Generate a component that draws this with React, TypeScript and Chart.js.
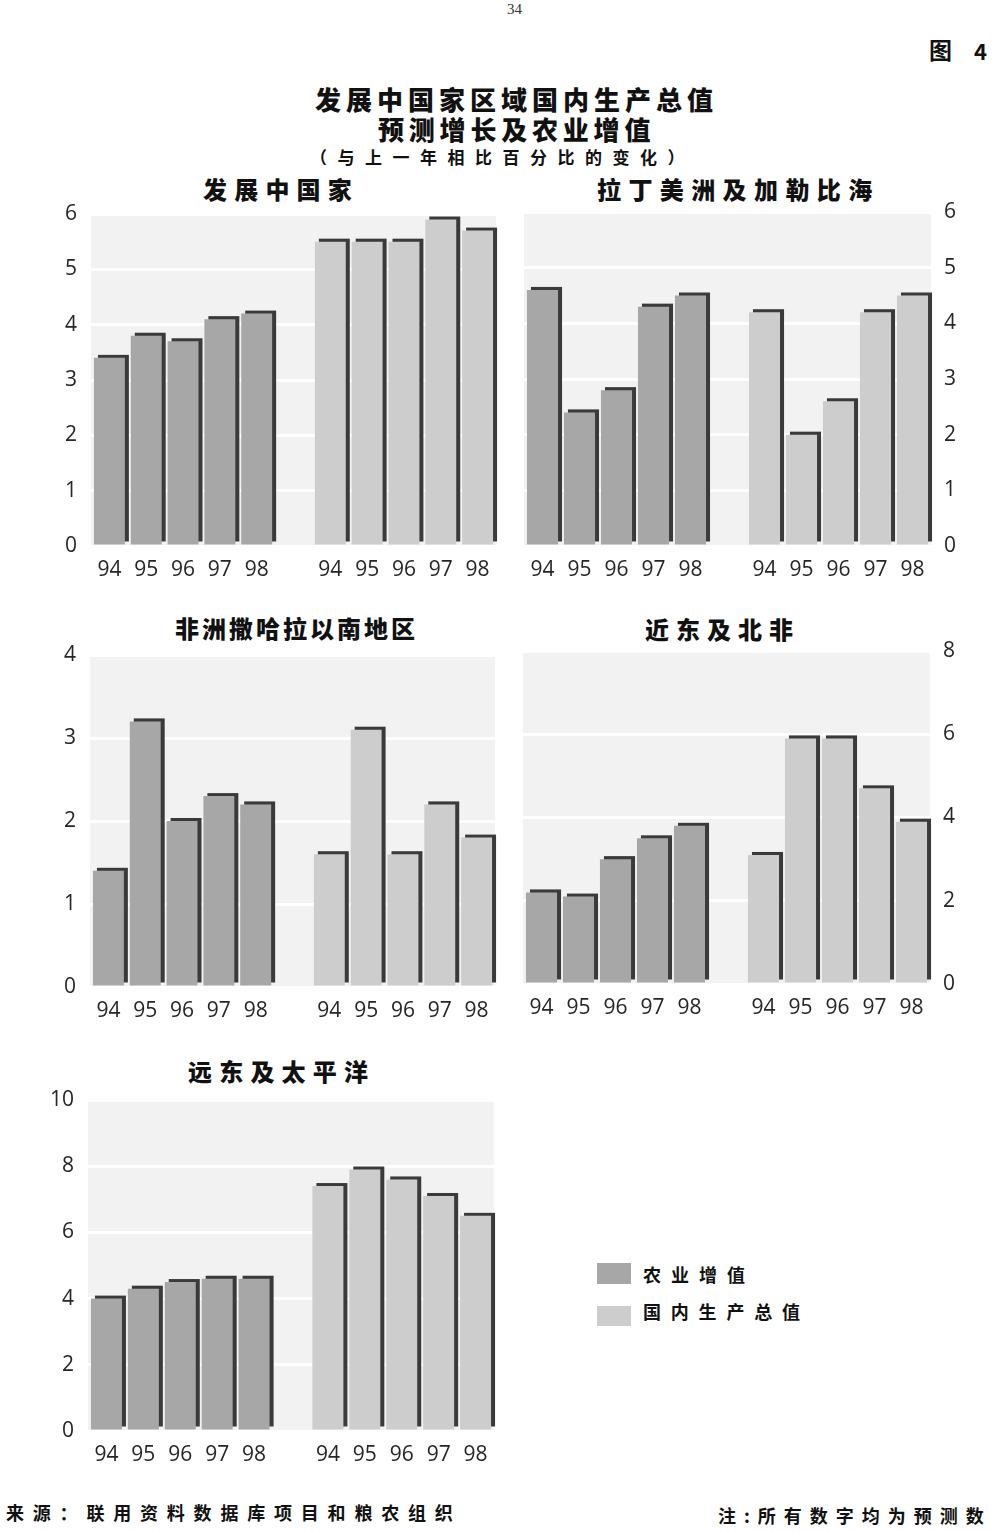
import React, { useEffect, useRef } from 'react';
import { Chart, registerables } from 'chart.js';

Chart.register(...registerables);

// ---------- data ----------
const YEARS = ['94', '95', '96', '97', '98'];
const SERIES_NAMES = ['农业增值', '国内生产总值'];

const DEV_AGRI = [3.4, 3.8, 3.7, 4.1, 4.2];
const DEV_GDP = [5.5, 5.5, 5.5, 5.9, 5.7];
const DEV_TICKS = [0, 1, 2, 3, 4, 5, 6];

const LAC_AGRI = [4.6, 2.4, 2.8, 4.3, 4.5];
const LAC_GDP = [4.2, 2.0, 2.6, 4.2, 4.5];
const LAC_TICKS = [0, 1, 2, 3, 4, 5, 6];

const SSA_AGRI = [1.4, 3.2, 2.0, 2.3, 2.2];
const SSA_GDP = [1.6, 3.1, 1.6, 2.2, 1.8];
const SSA_TICKS = [0, 1, 2, 3, 4];

const NENA_AGRI = [2.2, 2.1, 3.0, 3.5, 3.8];
const NENA_GDP = [3.1, 5.9, 5.9, 4.7, 3.9];
const NENA_TICKS = [0, 2, 4, 6, 8];

const FEP_AGRI = [4.0, 4.3, 4.5, 4.6, 4.6];
const FEP_GDP = [7.4, 7.9, 7.6, 7.1, 6.5];
const FEP_TICKS = [0, 2, 4, 6, 8, 10];

// ---------- styles ----------
const DARK = '#a7a7a7';
const LIGHT = '#cdcdcd';
const SHADOW = '#3a3a3a';
const PLOT_BG = '#f2f2f2';
const TICK_COLOR = '#262626';
const CJK = "'Noto Sans CJK SC', 'Noto Sans CJK TC', sans-serif";
const TICK_FONT = { family: "'Open Sans', 'DejaVu Sans', sans-serif", size: 21 };

const plotBgPlugin = {
  id: 'plotBg',
  beforeDraw(chart: any) {
    const { ctx, chartArea: a } = chart;
    ctx.save();
    ctx.fillStyle = PLOT_BG;
    ctx.fillRect(a.left, a.top, a.right - a.left, a.bottom - a.top);
    ctx.restore();
  },
};

const barShadowPlugin = {
  id: 'barShadow',
  beforeDatasetsDraw(chart: any) {
    const ctx = chart.ctx;
    ctx.save();
    ctx.fillStyle = SHADOW;
    chart.data.datasets.forEach((ds: any, i: number) => {
      const meta = chart.getDatasetMeta(i);
      meta.data.forEach((el: any, j: number) => {
        if (ds.data[j] == null) return;
        const { x, y, base, width } = el.getProps(['x', 'y', 'base', 'width'], true);
        if (!isFinite(y)) return;
        ctx.fillRect(x - width / 2 + 4, y - 3, width, base - y);
      });
    });
    ctx.restore();
  },
};

type Area = { l: number; r: number; t: number; b: number };

function Panel(props: { agri: number[]; gdp: number[]; ticks: number[]; area: Area; side: 'left' | 'right' }) {
  const { agri, gdp, ticks, area, side } = props;
  const ref = useRef<HTMLCanvasElement>(null);
  const axisW = 50;
  const sideW = 8;
  const topPad = 40;
  const xH = 44;
  const left = Math.round(side === 'left' ? area.l - axisW : area.l - sideW);
  const width = Math.round(side === 'left' ? area.r + sideW - left : area.r + axisW - left);
  const top = Math.round(area.t - topPad);
  const height = Math.round(area.b + xH - top);

  useEffect(() => {
    if (!ref.current) return;
    const none = YEARS.map(() => null);
    const labels = [...YEARS, '', ...YEARS];
    const chart = new Chart(ref.current, {
      type: 'bar',
      data: {
        labels,
        datasets: [
          { label: SERIES_NAMES[0], data: [...agri, null, ...none], backgroundColor: DARK },
          { label: SERIES_NAMES[1], data: [...none, null, ...gdp], backgroundColor: LIGHT },
        ],
      },
      options: {
        responsive: false,
        animation: false,
        layout: {
          padding: {
            top: topPad,
            bottom: 0,
            left: side === 'left' ? 0 : sideW,
            right: side === 'left' ? sideW : 0,
          },
        },
        datasets: { bar: { grouped: false, barPercentage: 0.84, categoryPercentage: 1 } } as any,
        plugins: {
          legend: { display: false },
          tooltip: { enabled: false },
          title: { display: false },
        },
        scales: {
          x: {
            grid: { display: false },
            border: { display: false },
            ticks: { color: TICK_COLOR, font: TICK_FONT, padding: 3, autoSkip: false, maxRotation: 0 },
            afterFit: (s: any) => {
              s.height = xH;
            },
          },
          y: {
            position: side,
            min: ticks[0],
            max: ticks[ticks.length - 1],
            ticks: {
              stepSize: ticks[1] - ticks[0],
              color: TICK_COLOR,
              font: TICK_FONT,
              padding: side === 'left' ? 14 : 13,
            },
            grid: { color: '#ffffff', lineWidth: 3, drawTicks: false },
            border: { display: false },
            afterFit: (s: any) => {
              s.width = axisW;
            },
          },
        },
      } as any,
      plugins: [plotBgPlugin, barShadowPlugin],
    });
    return () => chart.destroy();
  }, []);

  return (
    <canvas
      ref={ref}
      width={width}
      height={height}
      style={{ position: 'absolute', left, top, width, height }}
    />
  );
}

function Txt(props: {
  x: number;
  y: number;
  size: number;
  spacing?: number;
  weight?: number;
  family?: string;
  color?: string;
  children: React.ReactNode;
}) {
  const { x, y, size, spacing = 0, weight = 700, family = CJK, color = '#111', children } = props;
  return (
    <div
      style={{
        position: 'absolute',
        left: x,
        top: y - size * 0.556,
        fontSize: size,
        lineHeight: `${size}px`,
        letterSpacing: spacing,
        fontWeight: weight,
        fontFamily: family,
        color,
        whiteSpace: 'nowrap',
      }}
    >
      {children}
    </div>
  );
}

export default function App() {
  return (
    <div
      style={{
        position: 'absolute',
        left: 0,
        top: 0,
        width: 1000,
        height: 1531,
        background: '#ffffff',
        overflow: 'hidden',
      }}
    >
      <Txt x={507} y={10} size={15} weight={400} family="'Liberation Serif', serif" color="#333">
        34
      </Txt>
      <Txt x={929} y={51} size={23} weight={700}>图</Txt>
      <Txt x={974} y={51} size={22} weight={700}>4</Txt>

      <Txt x={315} y={100} size={26} spacing={5} weight={900}>发展中国家区域国内生产总值</Txt>
      <Txt x={378} y={130} size={26} spacing={4.8} weight={900}>预测增长及农业增值</Txt>
      <Txt x={310} y={157} size={17} spacing={10.5} weight={700}>（与上一年相比百分比的变化）</Txt>

      <Txt x={203} y={190} size={24} spacing={7.2} weight={900}>发展中国家</Txt>
      <Txt x={597} y={190} size={24} spacing={7.4} weight={900}>拉丁美洲及加勒比海</Txt>
      <Txt x={175} y={629} size={24} spacing={3} weight={900}>非洲撒哈拉以南地区</Txt>
      <Txt x={645} y={630} size={24} spacing={7} weight={900}>近东及北非</Txt>
      <Txt x={188} y={1072} size={24} spacing={7.2} weight={900}>远东及太平洋</Txt>

      <Panel agri={DEV_AGRI} gdp={DEV_GDP} ticks={DEV_TICKS} side="left" area={{ l: 90.5, r: 495.6, t: 214, b: 546 }} />
      <Panel agri={LAC_AGRI} gdp={LAC_GDP} ticks={LAC_TICKS} side="right" area={{ l: 524.4, r: 930.6, t: 212, b: 546 }} />
      <Panel agri={SSA_AGRI} gdp={SSA_GDP} ticks={SSA_TICKS} side="left" area={{ l: 89.8, r: 494.6, t: 655, b: 987 }} />
      <Panel agri={NENA_AGRI} gdp={NENA_GDP} ticks={NENA_TICKS} side="right" area={{ l: 523.1, r: 929.6, t: 651, b: 984 }} />
      <Panel agri={FEP_AGRI} gdp={FEP_GDP} ticks={FEP_TICKS} side="left" area={{ l: 87.8, r: 493.6, t: 1100, b: 1431 }} />

      <div style={{ position: 'absolute', left: 597, top: 1263, width: 34, height: 21, background: DARK }} />
      <div style={{ position: 'absolute', left: 597, top: 1306, width: 34, height: 20, background: LIGHT }} />
      <Txt x={643} y={1275} size={18} spacing={10} weight={700}>{SERIES_NAMES[0]}</Txt>
      <Txt x={643} y={1312} size={18} spacing={9.8} weight={700}>{SERIES_NAMES[1]}</Txt>

      <Txt x={6} y={1513} size={18} spacing={8.8} weight={700}>来源：联用资料数据库项目和粮农组织</Txt>
      <Txt x={718} y={1516} size={18} spacing={8} weight={700}>注:所有数字均为预测数</Txt>
    </div>
  );
}
